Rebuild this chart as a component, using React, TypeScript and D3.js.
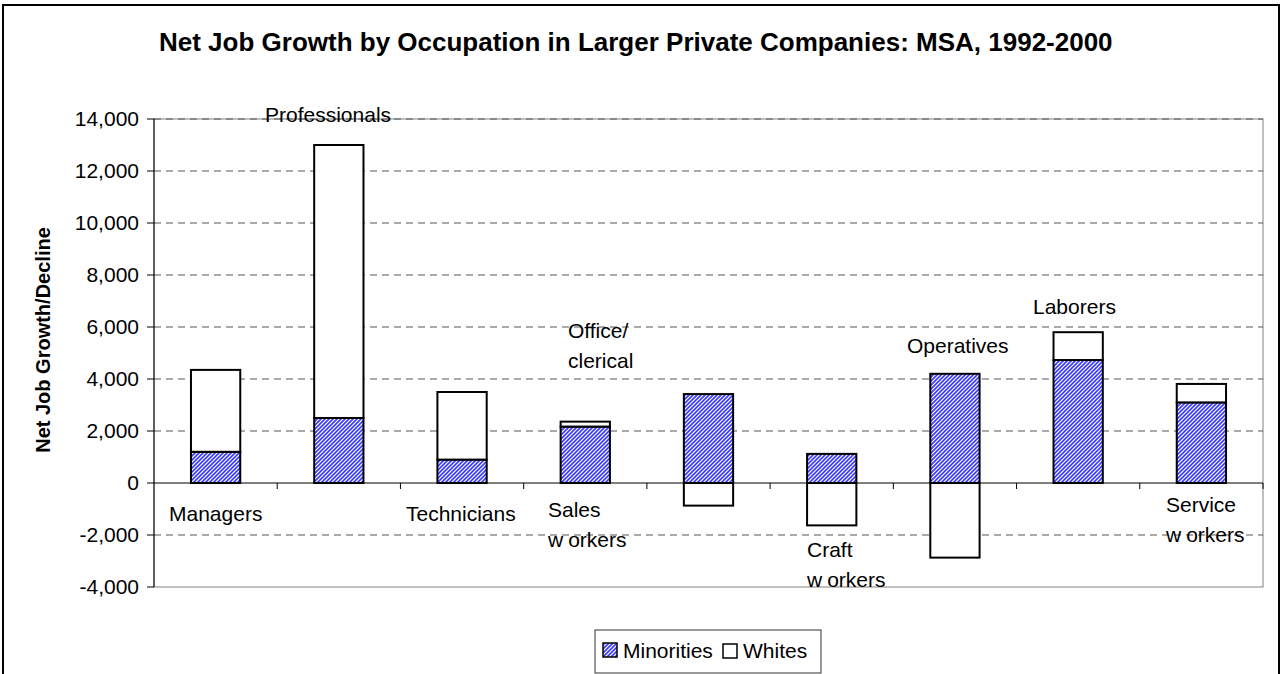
import React from "react";
import * as d3 from "d3";

const categories = [
  "Managers",
  "Professionals",
  "Technicians",
  "Sales workers",
  "Office/clerical",
  "Craft workers",
  "Operatives",
  "Laborers",
  "Service workers",
];
const minorities = [1200, 2500, 900, 2170, 3420, 1120, 4200, 4730, 3100];
const whites = [3150, 10500, 2600, 190, -870, -1630, -2870, 1070, 710];
const yTicks = [-4000, -2000, 0, 2000, 4000, 6000, 8000, 10000, 12000, 14000];
const seriesNames = ["Minorities", "Whites"];

// free-floating category label boxes
const labelLines: string[][] = [
  ["Managers"],
  ["Professionals"],
  ["Technicians"],
  ["Sales", "workers"],
  ["Office/", "clerical"],
  ["Craft", "workers"],
  ["Operatives"],
  ["Laborers"],
  ["Service", "workers"],
];
const labelPos: [number, number][] = [
  [169, 521],
  [265, 122],
  [406, 521],
  [548, 517],
  [568, 338],
  [807, 557],
  [907, 353],
  [1033, 314],
  [1166, 512],
];

const W = 1281;
const H = 674;
const plot = { left: 154, right: 1263, top: 119, bottom: 587 };
const FONT = "'Liberation Sans', Arial, Helvetica, sans-serif";

export default function App() {
  const x = d3
    .scaleBand<string>()
    .domain(categories)
    .range([plot.left, plot.right])
    .paddingInner(0.6)
    .paddingOuter(0.3);
  const y = d3.scaleLinear().domain([-4000, 14000]).range([plot.bottom, plot.top]);

  const rows = categories.map((c, i) => ({ cat: c, Minorities: minorities[i], Whites: whites[i] }));
  const stacked = d3
    .stack<any>()
    .keys(seriesNames)
    .offset(d3.stackOffsetDiverging)(rows);

  const fills: Record<string, string> = { Minorities: "url(#hatch)", Whites: "#ffffff" };
  const step = x.step();
  const fmt = (v: number) => d3.format(",")(v).replace("\u2212", "-");
  const y0 = y(0);

  const renderLine = (t: string) => {
    if (t === "workers") {
      return (
        <>
          <tspan>w</tspan>
          <tspan dx="5">orkers</tspan>
        </>
      );
    }
    return t;
  };

  return (
    <svg
      width={W}
      height={H}
      style={{ position: "absolute", left: 0, top: 0, display: "block", background: "#fff" }}
      fontFamily={FONT}
    >
      <defs>
        <pattern id="hatch" patternUnits="userSpaceOnUse" width="4" height="4">
          <rect width="4" height="4" fill="#ffffff" />
          <path d="M-1,1 l2,-2 M0,4 l4,-4 M3,5 l2,-2" stroke="#3a3aff" strokeWidth="1.6" />
        </pattern>
      </defs>

      {/* outer chart border */}
      <rect x={3} y={5} width={1276} height={H + 10} fill="#fff" stroke="#000" strokeWidth={2} />

      {/* title */}
      <text x={159} y={51} fontSize={26} fontWeight="bold" fill="#000">
        Net Job Growth by Occupation in Larger Private Companies: MSA, 1992-2000
      </text>

      {/* plot area border */}
      <rect
        x={plot.left}
        y={plot.top}
        width={plot.right - plot.left}
        height={plot.bottom - plot.top}
        fill="#fff"
        stroke="#808080"
        strokeWidth={1}
      />

      {/* gridlines */}
      {yTicks
        .filter((t) => t !== -4000 && t !== 0)
        .map((t) => (
          <line
            key={"g" + t}
            x1={plot.left}
            x2={plot.right}
            y1={y(t)}
            y2={y(t)}
            stroke="#555"
            strokeWidth={1}
            strokeDasharray="7,5"
          />
        ))}

      {/* bars */}
      {stacked.map((s) => (
        <g key={s.key}>
          {s.map((d: any, i: number) => {
            const top = y(Math.max(d[0], d[1]));
            const bot = y(Math.min(d[0], d[1]));
            return (
              <rect
                key={i}
                x={x(categories[i])!}
                y={top}
                width={x.bandwidth()}
                height={bot - top}
                fill={fills[s.key]}
                stroke="#000"
                strokeWidth={2}
              />
            );
          })}
        </g>
      ))}

      {/* x axis at zero */}
      <line x1={plot.left} x2={plot.right} y1={y0} y2={y0} stroke="#000" strokeWidth={1} />
      {categories.map((c, i) => {
        const xt = plot.left + step * (i + 1);
        return <line key={"xt" + i} x1={xt} x2={xt} y1={y0} y2={y0 + 6} stroke="#000" strokeWidth={1} />;
      })}

      {/* y axis */}
      <line x1={plot.left} x2={plot.left} y1={plot.top} y2={plot.bottom} stroke="#000" strokeWidth={1} />
      {yTicks.map((t) => (
        <g key={"yt" + t}>
          <line x1={plot.left - 7} x2={plot.left} y1={y(t)} y2={y(t)} stroke="#000" strokeWidth={1} />
          <text x={139} y={y(t) + 7} fontSize={21} textAnchor="end" fill="#000">
            {fmt(t)}
          </text>
        </g>
      ))}

      {/* y axis title */}
      <text
        transform={`translate(50,340) rotate(-90)`}
        fontSize={20}
        fontWeight="bold"
        textAnchor="middle"
        fill="#000"
      >
        Net Job Growth/Decline
      </text>

      {/* category labels */}
      {labelLines.map((lines, i) => (
        <text key={"lab" + i} fontSize={21} fill="#000">
          {lines.map((ln, j) => (
            <tspan key={j} x={labelPos[i][0]} y={labelPos[i][1] + j * 30}>
              {renderLine(ln)}
            </tspan>
          ))}
        </text>
      ))}

      {/* legend */}
      <rect x={595} y={630} width={226} height={43} fill="#fff" stroke="#333" strokeWidth={1} />
      <rect x={603} y={643} width={14} height={14} fill="url(#hatch)" stroke="#000" strokeWidth={1.5} />
      <text x={623} y={658} fontSize={21} fill="#000">
        {seriesNames[0]}
      </text>
      <rect x={723} y={644} width={14} height={14} fill="#fff" stroke="#000" strokeWidth={1.5} />
      <text x={743} y={658} fontSize={21} fill="#000">
        {seriesNames[1]}
      </text>
    </svg>
  );
}
